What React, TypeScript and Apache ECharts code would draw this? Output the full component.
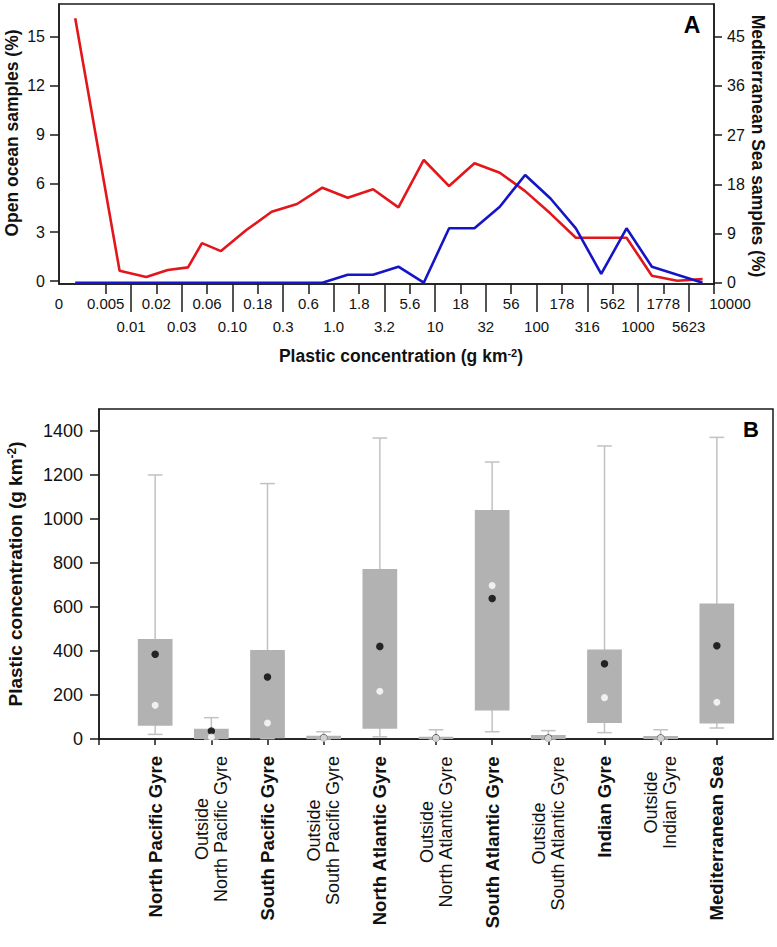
import React, { useEffect, useRef } from 'react';
import * as echarts from 'echarts';

// ---- Panel A data ----
// bin positions on the quarter-decade index axis (0 = 0.005, 24 = 10000)
const binPositions = [-1.2, 0.55, 1.6, 2.45, 3.25, 3.8, 4.55, 5.55, 6.55, 7.55, 8.55, 9.55, 10.55, 11.55, 12.55, 13.55, 14.55, 15.55, 16.55, 17.55, 18.55, 19.55, 20.55, 21.55, 22.55, 23.55];
const openOceanPct = [16.13, 0.63, 0.25, 0.68, 0.84, 2.33, 1.84, 3.13, 4.25, 4.73, 5.73, 5.11, 5.63, 4.52, 7.43, 5.83, 7.23, 6.65, 5.52, 4.14, 2.66, 2.66, 2.66, 0.33, 0.02, 0.12];
const medSeaPct = [0, 0, 0, 0, 0, 0, 0, 0, 0, 0, 0, 1.46, 1.46, 2.93, 0, 9.95, 9.95, 13.9, 19.7, 15.4, 9.95, 1.6, 9.95, 2.93, 1.46, 0];

const upperTickIndex = [-1.84, 0, 2, 4, 6, 8, 10, 12, 14, 16, 18, 20, 22, 24];
const upperTickLabels = ['0', '0.005', '0.02', '0.06', '0.18', '0.6', '1.8', '5.6', '18', '56', '178', '562', '1778', '10000'];
const lowerTickIndex = [1, 3, 5, 7, 9, 11, 13, 15, 17, 19, 21, 23];
const lowerTickLabels = ['0.01', '0.03', '0.10', '0.3', '1.0', '3.2', '10', '32', '100', '316', '1000', '5623'];
const leftTicks = [0, 3, 6, 9, 12, 15];
const rightTicks = [0, 9, 18, 27, 36, 45];

// ---- Panel B data ----
const regions = [
  'North Pacific Gyre', 'Outside\nNorth Pacific Gyre',
  'South Pacific Gyre', 'Outside\nSouth Pacific Gyre',
  'North Atlantic Gyre', 'Outside\nNorth Atlantic Gyre',
  'South Atlantic Gyre', 'Outside\nSouth Atlantic Gyre',
  'Indian Gyre', 'Outside\nIndian Gyre',
  'Mediterranean Sea',
];
const isGyre = [true, false, true, false, true, false, true, false, true, false, true];
const whiskerLow = [21, 0, 2, 0, 10, 0, 33, 0, 29, 0, 50];
const q1 = [60, 0, 3, 0, 47, 0, 129, 0, 73, 0, 71];
const q3 = [455, 47, 404, 15, 773, 10, 1041, 18, 407, 14, 616];
const whiskerHigh = [1200, 97, 1161, 33, 1368, 42, 1259, 38, 1332, 42, 1371];
const means = [385, 36, 282, 6, 421, 5, 639, 4, 342, 4, 424];
const medians = [153, 9, 73, 4, 217, 3, 698, 3, 188, 3, 167];
const bTicks = [0, 200, 400, 600, 800, 1000, 1200, 1400];

const FONT = '"Liberation Sans", Arial, Helvetica, sans-serif';

function lookup(v: number, pos: number[], labels: string[]) {
  const i = pos.findIndex((p) => Math.abs(p - v) < 1e-6);
  return i >= 0 ? labels[i] : '';
}

export default function App() {
  const ref = useRef<HTMLDivElement>(null);
  useEffect(() => {
    if (!ref.current) return;
    const chart = echarts.init(ref.current, null, { renderer: 'svg' });
    const regionIdx = regions.map((_, i) => i + 1);
    const option: any = {
      animation: false,
      backgroundColor: '#ffffff',
      textStyle: { fontFamily: FONT },
      grid: [
        { left: 59, top: 4, width: 655, height: 280, show: true, borderColor: '#1a1a1a', borderWidth: 1.5, containLabel: false },
        { left: 99, top: 409, width: 674, height: 330, show: true, borderColor: '#1a1a1a', borderWidth: 1.5, containLabel: false },
      ],
      xAxis: [
        {
          type: 'value', gridIndex: 0, position: 'bottom', min: -1.84, max: 24,
          axisLine: { show: true, onZero: false, lineStyle: { color: '#1a1a1a', width: 1.5 } },
          axisTick: { show: true, length: 10, customValues: upperTickIndex.slice(1), lineStyle: { color: '#1a1a1a', width: 1.5 } },
          axisLabel: {
            customValues: upperTickIndex, margin: 12, fontSize: 15, color: '#111',
            formatter: (v: number) => {
              const s = lookup(v, upperTickIndex, upperTickLabels);
              return s === '10000' ? '{r|' + s + '}' : s;
            },
            rich: { r: { fontSize: 15, color: '#111', padding: [0, 0, 0, 32] } },
          },
          splitLine: { show: false },
        },
        {
          type: 'value', gridIndex: 0, position: 'bottom', min: -1.84, max: 24,
          axisLine: { show: false, onZero: false },
          axisTick: { show: true, length: 28, customValues: lowerTickIndex, lineStyle: { color: '#1a1a1a', width: 1.5 } },
          axisLabel: {
            customValues: lowerTickIndex, margin: 35, fontSize: 15, color: '#111',
            formatter: (v: number) => lookup(v, lowerTickIndex, lowerTickLabels),
          },
          splitLine: { show: false },
        },
        {
          type: 'value', gridIndex: 1, position: 'bottom', min: 0, max: 12,
          axisLine: { show: true, onZero: false, lineStyle: { color: '#1a1a1a', width: 1.5 } },
          axisTick: { show: true, length: 6, customValues: [0, ...regionIdx], lineStyle: { color: '#1a1a1a', width: 1.5 } },
          axisLabel: {
            customValues: regionIdx, rotate: 90, margin: 17, color: '#111',
            formatter: (v: number) => {
              const i = Math.round(v) - 1;
              if (i < 0 || i >= regions.length) return '';
              if (isGyre[i]) return '{b|' + regions[i] + '}';
              return regions[i].split('\n').map((l) => '{n|' + l + '}').join('\n');
            },
            rich: {
              b: { fontSize: 18.5, fontWeight: 'bold', color: '#111', align: 'center' },
              n: { fontSize: 18, color: '#111', lineHeight: 19, align: 'center' },
            },
          },
          splitLine: { show: false },
        },
      ],
      yAxis: [
        {
          type: 'value', gridIndex: 0, position: 'left', min: -0.18, max: 17.0,
          axisLine: { show: true, onZero: false, lineStyle: { color: '#1a1a1a', width: 1.5 } },
          axisTick: { show: true, length: 9, customValues: leftTicks, lineStyle: { color: '#1a1a1a', width: 1.5 } },
          axisLabel: { customValues: leftTicks, margin: 14, fontSize: 16, color: '#111', formatter: (v: number) => String(v) },
          splitLine: { show: false },
        },
        {
          type: 'value', gridIndex: 0, position: 'right', min: -0.24, max: 50.98,
          axisLine: { show: true, onZero: false, lineStyle: { color: '#1a1a1a', width: 1.5 } },
          axisTick: { show: true, length: 8, customValues: rightTicks, lineStyle: { color: '#1a1a1a', width: 1.5 } },
          axisLabel: { customValues: rightTicks, margin: 13, fontSize: 16, color: '#111', formatter: (v: number) => String(v) },
          splitLine: { show: false },
        },
        {
          type: 'value', gridIndex: 1, position: 'left', min: 0, max: 1500,
          axisLine: { show: true, onZero: false, lineStyle: { color: '#1a1a1a', width: 1.5 } },
          axisTick: { show: true, length: 9, customValues: bTicks, lineStyle: { color: '#1a1a1a', width: 1.5 } },
          axisLabel: { customValues: bTicks, margin: 16, fontSize: 18, color: '#111', formatter: (v: number) => String(v) },
          splitLine: { show: false },
        },
      ],
      series: [
        {
          name: 'Open ocean samples', type: 'line', xAxisIndex: 0, yAxisIndex: 0,
          data: binPositions.map((x, i) => [x, openOceanPct[i]]),
          showSymbol: false, symbol: 'none',
          lineStyle: { color: '#e3161b', width: 2.6 },
          itemStyle: { color: '#e3161b' },
        },
        {
          name: 'Mediterranean Sea samples', type: 'line', xAxisIndex: 0, yAxisIndex: 1,
          data: binPositions.map((x, i) => [x, medSeaPct[i]]),
          showSymbol: false, symbol: 'none',
          lineStyle: { color: '#1515c8', width: 2.6 },
          itemStyle: { color: '#1515c8' },
        },
        {
          name: 'box', type: 'custom', xAxisIndex: 2, yAxisIndex: 2,
          data: regions.map((_, i) => [i + 1, whiskerLow[i], q1[i], q3[i], whiskerHigh[i]]),
          encode: { x: 0, y: [1, 2, 3, 4] },
          renderItem: (params: any, api: any) => {
            const x = api.value(0);
            const pLow = api.coord([x, api.value(1)]);
            const pQ1 = api.coord([x, api.value(2)]);
            const pQ3 = api.coord([x, api.value(3)]);
            const pHigh = api.coord([x, api.value(4)]);
            const cx = pLow[0];
            const boxW = 34.7;
            const capW = 14.7;
            const wStyle = { stroke: '#c2c2c2', lineWidth: 1.5, fill: null };
            return {
              type: 'group',
              children: [
                { type: 'line', shape: { x1: cx, y1: pHigh[1], x2: cx, y2: pLow[1] }, style: wStyle },
                { type: 'line', shape: { x1: cx - capW / 2, y1: pHigh[1], x2: cx + capW / 2, y2: pHigh[1] }, style: wStyle },
                { type: 'line', shape: { x1: cx - capW / 2, y1: pLow[1], x2: cx + capW / 2, y2: pLow[1] }, style: wStyle },
                {
                  type: 'rect',
                  shape: { x: cx - boxW / 2, y: pQ3[1], width: boxW, height: Math.max(pQ1[1] - pQ3[1], 1) },
                  style: { fill: '#b2b2b2', stroke: null },
                },
              ],
            };
          },
        },
        {
          name: 'Mean', type: 'scatter', xAxisIndex: 2, yAxisIndex: 2,
          data: regions.map((_, i) => [i + 1, means[i]]),
          symbol: 'circle', symbolSize: 7.5,
          itemStyle: { color: '#000000' },
        },
        {
          name: 'Median', type: 'scatter', xAxisIndex: 2, yAxisIndex: 2,
          data: regions.map((_, i) => [i + 1, medians[i]]),
          symbol: 'circle', symbolSize: 7,
          itemStyle: { color: '#ffffff' },
        },
      ],
      graphic: [
        {
          type: 'text', x: 12, y: 133, rotation: Math.PI / 2,
          style: { text: 'Open ocean samples (%)', font: 'bold 17.5px ' + FONT, fill: '#111', align: 'center', verticalAlign: 'middle', textAlign: 'center', textVerticalAlign: 'middle' },
        },
        {
          type: 'text', x: 758, y: 146, rotation: -Math.PI / 2,
          style: { text: 'Mediterranean Sea samples (%)', font: 'bold 17.5px ' + FONT, fill: '#111', align: 'center', verticalAlign: 'middle', textAlign: 'center', textVerticalAlign: 'middle' },
        },
        {
          type: 'text', x: 401, y: 356,
          style: {
            text: '{t|Plastic concentration (g km}{s|-2}{t|)}',
            rich: {
              t: { font: 'bold 17.5px ' + FONT, fill: '#111', color: '#111', verticalAlign: 'bottom' },
              s: { font: 'bold 11px ' + FONT, fill: '#111', color: '#111', verticalAlign: 'top' },
            },
            align: 'center', verticalAlign: 'middle', textAlign: 'center', textVerticalAlign: 'middle',
          },
        },
        {
          type: 'text', x: 15, y: 574, rotation: Math.PI / 2,
          style: {
            text: '{t|Plastic concentration (g km}{s|-2}{t|)}',
            rich: {
              t: { font: 'bold 19px ' + FONT, fill: '#111', color: '#111', verticalAlign: 'bottom' },
              s: { font: 'bold 12px ' + FONT, fill: '#111', color: '#111', verticalAlign: 'top' },
            },
            align: 'center', verticalAlign: 'middle', textAlign: 'center', textVerticalAlign: 'middle',
          },
        },
        {
          type: 'text', x: 692, y: 25,
          style: { text: 'A', font: 'bold 23px ' + FONT, fill: '#000', align: 'center', verticalAlign: 'middle', textAlign: 'center', textVerticalAlign: 'middle' },
        },
        {
          type: 'text', x: 751, y: 429,
          style: { text: 'B', font: 'bold 22px ' + FONT, fill: '#000', align: 'center', verticalAlign: 'middle', textAlign: 'center', textVerticalAlign: 'middle' },
        },
      ],
    };
    chart.setOption(option);
    return () => chart.dispose();
  }, []);
  return (
    <div
      ref={ref}
      style={{ position: 'fixed', left: 0, top: 0, width: 777, height: 947, background: '#fff' }}
    />
  );
}
